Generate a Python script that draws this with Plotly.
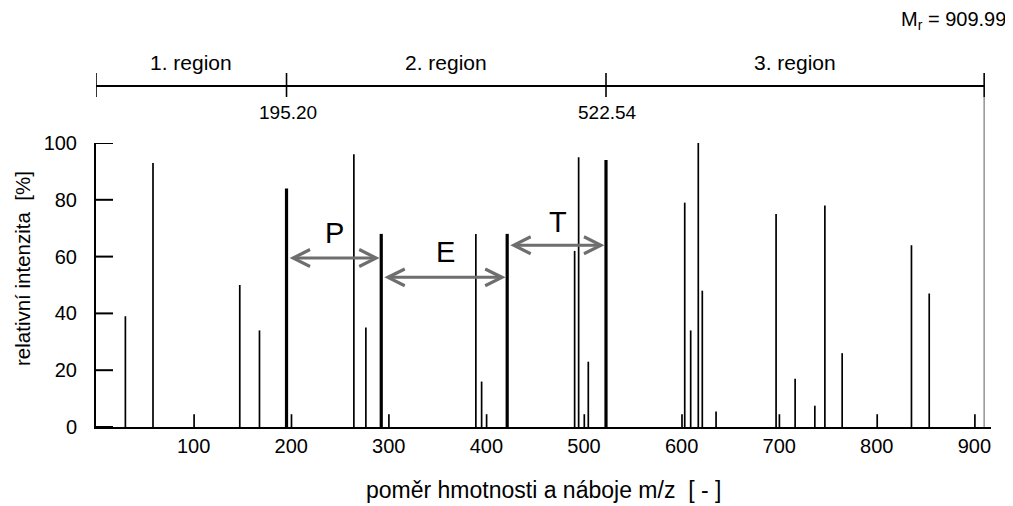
import plotly.graph_objects as go

# ---- data ----
peak_mz = [30.1, 58.4, 100.5, 147.3, 167.5, 200.3, 264.2, 276.5, 300.1, 389.2,
           395.1, 400.2, 490.4, 494.5, 500.3, 504.4, 600.4, 603.2, 609.3, 617.1,
           621.2, 635.3, 696.8, 700.2, 716.3, 736.5, 746.8, 764.5, 800.4, 835.5,
           853.7, 900.5]
peak_int = [39, 93, 4.5, 50, 34, 4.5, 96, 35, 4.5, 68,
            16, 4.5, 62, 95, 4.5, 23, 4.5, 79, 34, 100,
            48, 5.5, 75, 4.5, 17, 7.5, 78, 26, 4.5, 64,
            47, 4.5]
seq_mz = [195.20, 292.25, 421.29, 522.54]
seq_int = [84, 68, 68, 94]
seq_labels = ["P", "E", "T"]
arrow_y = [59.5, 52.7, 64]
label_pos = [(244, 68.2), (358, 61.5), (473, 72.3)]
region_bounds = [0, 195.20, 522.54, 909.99]
region_names = ["1. region", "2. region", "3. region"]
mr_value = 909.99
x_ticks = [100, 200, 300, 400, 500, 600, 700, 800, 900]
y_ticks = [0, 20, 40, 60, 80, 100]

FONT = "Liberation Sans, Arial, sans-serif"
NB = "\u00a0"
X_MAX = 917


def stems(xs, ys):
    X, Y = [], []
    for x, y in zip(xs, ys):
        X += [x, x, None]
        Y += [0, y, None]
    return X, Y


# page geometry (page has an 8px body margin)
PL, PR, PT, PB = 96.0, 991.0, 143.0, 427.0
PW, PH = PR - PL, PB - PT
FIG_W, FIG_H = 1005, 498


def py(ypx):
    return (PB - ypx) / PH


def px(xpx):
    return (xpx - PL) / PW


fig = go.Figure()
X, Y = stems(peak_mz, peak_int)
fig.add_trace(go.Scatter(x=X, y=Y, mode="lines", line=dict(color="black", width=1.7),
                         hoverinfo="skip", showlegend=False))
X, Y = stems(seq_mz, seq_int)
fig.add_trace(go.Scatter(x=X, y=Y, mode="lines", line=dict(color="black", width=3.2),
                         hoverinfo="skip", showlegend=False))

# inward y-axis tick marks (17 px long)
tick_len = 17 * X_MAX / PW
for t in y_ticks:
    fig.add_trace(go.Scatter(x=[0, tick_len], y=[t, t], mode="lines",
                             line=dict(color="black", width=2),
                             hoverinfo="skip", showlegend=False, cliponaxis=False))

shapes = []
# Mr grey line
shapes.append(dict(type="line", xref="x", yref="paper", x0=mr_value, x1=mr_value,
                   y0=0, y1=py(97), line=dict(color="#999999", width=1.6)))
# region bar
shapes.append(dict(type="line", xref="x", yref="paper", x0=region_bounds[0],
                   x1=region_bounds[-1], y0=py(86), y1=py(86),
                   line=dict(color="black", width=2)))
for b in region_bounds:
    shapes.append(dict(type="line", xref="x", yref="paper", x0=b, x1=b,
                       y0=py(97), y1=py(73), line=dict(color="black", width=1.6)))

annotations = []
C = dict(xanchor="center", yanchor="middle", showarrow=False)
for i, name in enumerate(region_names):
    xm = (region_bounds[i] + region_bounds[i + 1]) / 2
    annotations.append(dict(x=xm, y=py(62), xref="x", yref="paper", text=name,
                            font=dict(size=21, color="black"), **C))
for b in region_bounds[1:3]:
    annotations.append(dict(x=b + 1.5, y=py(113), xref="x", yref="paper", text=f"{b:.2f}",
                            font=dict(size=19, color="black"), **C))
annotations.append(dict(x=px(1008), y=py(21), xref="paper", yref="paper",
                        xanchor="right", yanchor="middle", showarrow=False,
                        text=f"M<sub>r</sub> = {mr_value:.2f}",
                        font=dict(size=20, color="black")))

# arrows
for i in range(3):
    x0 = seq_mz[i] + 1.6
    x1 = seq_mz[i + 1] - 1.6
    annotations.append(dict(x=x1, y=arrow_y[i], ax=x0, ay=arrow_y[i], xref="x", yref="y",
                            axref="x", ayref="y", text="", showarrow=True,
                            arrowside="end+start", arrowhead=5, startarrowhead=5,
                            arrowsize=1.1, startarrowsize=1.1, arrowwidth=3,
                            arrowcolor="#6e6e6e", standoff=0, startstandoff=0))
    annotations.append(dict(x=label_pos[i][0], y=label_pos[i][1], xref="x", yref="y",
                            text=seq_labels[i], font=dict(size=29, color="black"), **C))

# axis titles
annotations.append(dict(x=px(22), y=py(269), xref="paper", yref="paper",
                        text="relativní intenzita  [%]".replace("  ", " " + NB),
                        textangle=-90, font=dict(size=20.5, color="black"), **C))
annotations.append(dict(x=0.5, y=py(490), xref="paper", yref="paper",
                        text="poměr hmotnosti a náboje m/z  [ - ]".replace("  ", " " + NB),
                        font=dict(size=23, color="black"), **C))

fig.update_layout(
    width=FIG_W, height=FIG_H,
    margin=dict(l=PL - 8, r=FIG_W - (PR - 8), t=PT - 8, b=FIG_H - (PB - 8)),
    paper_bgcolor="white", plot_bgcolor="white",
    font=dict(family=FONT, size=20, color="black"),
    shapes=shapes, annotations=annotations,
    xaxis=dict(range=[0, X_MAX], tickvals=x_ticks, ticks="", showline=True,
               linecolor="black", linewidth=2, showgrid=False, zeroline=False,
               tickfont=dict(size=20)),
    yaxis=dict(range=[0, 100], tickvals=y_ticks, ticks="", showline=True,
               linecolor="black", linewidth=2, showgrid=False, zeroline=False,
               ticklabelstandoff=13, tickfont=dict(size=20)),
)

fig.write_html("out.html")
